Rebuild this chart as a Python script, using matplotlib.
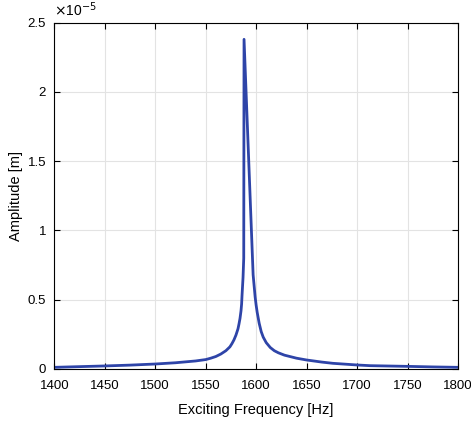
import matplotlib
matplotlib.use('Agg')
import matplotlib.pyplot as plt
plt.rcParams['font.family'] = ['Liberation Sans', 'DejaVu Sans']

# amplitude in units of 1e-5 m
freq = [1400, 1425, 1450, 1475, 1500, 1520, 1540, 1550, 1555, 1560, 1565, 1570, 1574,
        1576, 1578, 1580, 1582, 1583, 1584, 1585, 1585.6, 1586, 1587, 1587.7, 1588,
        1597, 1599, 1600, 1601, 1603, 1605, 1607, 1610, 1614, 1618, 1622, 1628, 1640, 1650,
        1665, 1676, 1700, 1713, 1750, 1775, 1800]
amp = [0.012, 0.017, 0.022, 0.028, 0.036, 0.045, 0.058, 0.068, 0.078, 0.09, 0.108, 0.132, 0.16,
       0.183, 0.21, 0.245, 0.29, 0.325, 0.365, 0.42, 0.47, 0.53, 0.66, 0.80, 2.38,
       0.68, 0.52, 0.46, 0.41, 0.33, 0.27, 0.23, 0.19, 0.155, 0.132, 0.117, 0.10, 0.078, 0.065,
       0.05, 0.041, 0.029, 0.024, 0.019, 0.015, 0.012]
xticks = [1400, 1450, 1500, 1550, 1600, 1650, 1700, 1750, 1800]
yticks = [0, 0.5, 1, 1.5, 2, 2.5]
ylabels = ['0', '0.5', '1', '1.5', '2', '2.5']

fig = plt.figure(figsize=(4.71, 4.22), dpi=100)
ax = fig.add_axes([0.1153, 0.1256, 0.8571, 0.8206])
ax.plot(freq, amp, color='#2E44A8', lw=2.0, solid_joinstyle='round')

ax.set_xlim(1400, 1800)
ax.set_ylim(0, 2.5)
ax.set_xticks(xticks)
ax.set_yticks(yticks)
ax.set_yticklabels(ylabels)
ax.tick_params(direction='in', top=True, right=True, length=4, width=0.8,
               labelsize=9.5)
ax.tick_params(axis='x', pad=8)
ax.tick_params(axis='y', pad=6)
ax.grid(True, color='#e3e3e3', lw=0.8)
ax.set_axisbelow(True)
for s in ax.spines.values():
    s.set_linewidth(0.8)

ax.set_xlabel('Exciting Frequency [Hz]', fontsize=10.5, labelpad=8)
ax.set_ylabel('Amplitude [m]', fontsize=10.5, labelpad=3)
ax.text(0.0, 1.01, r'$\times$10$^{-5}$', transform=ax.transAxes, fontsize=10,
        va='bottom', ha='left')

fig.savefig('out.png', dpi=100)
